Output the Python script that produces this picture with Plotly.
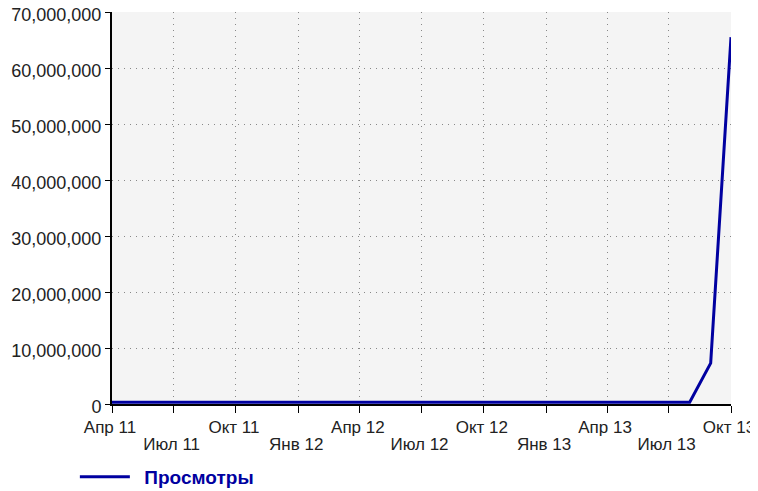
import plotly.graph_objects as go
import pandas as pd

# monthly views, Apr 2011 .. Oct 2013
months = pd.date_range('2011-04-01', '2013-10-01', freq='MS')
views = [300000] * 28 + [300000, 7300000, 65500000]

tick_dates = pd.date_range('2011-04-01', '2013-10-01', freq='3MS')
tick_labels = ['Апр 11', 'Июл 11', 'Окт 11', 'Янв 12', 'Апр 12', 'Июл 12',
               'Окт 12', 'Янв 13', 'Апр 13', 'Июл 13', 'Окт 13']
# labels alternate between two rows
row1 = [t if i % 2 == 0 else '' for i, t in enumerate(tick_labels)]
row2 = [t if i % 2 == 1 else '' for i, t in enumerate(tick_labels)]

fig = go.Figure()
fig.add_trace(go.Scatter(x=months, y=views, mode='lines', name='\u2002<b>Просмотры</b>',
                         line=dict(color='#0000a0', width=3)))
# invisible helper so the second label row axis gets drawn
fig.add_trace(go.Scatter(x=months, y=views, mode='lines', xaxis='x2', showlegend=False,
                         hoverinfo='skip', opacity=0, line=dict(width=0)))

fig.update_layout(
    width=750, height=483,
    margin=dict(l=104, r=27, t=4, b=87, autoexpand=False),
    plot_bgcolor='#f4f4f4', paper_bgcolor='white',
    font=dict(family='Liberation Sans, Arial', size=17, color='#222222'),
    showlegend=True,
    legend=dict(orientation='h', x=-0.06, xanchor='left', y=-0.186, yanchor='middle',
                itemwidth=50, font=dict(size=19, color='#0000a0'), bgcolor='rgba(0,0,0,0)'),
)
grid = dict(showgrid=True, gridcolor='#888888', griddash='1px,5px', gridwidth=1,
            showline=True, linecolor='black', linewidth=2,
            ticks='outside', tickcolor='black', tickwidth=1, zeroline=False,
            ticklabeloverflow='allow')
fig.update_xaxes(range=[months[0], months[-1]], tickvals=tick_dates, ticktext=row1,
                 ticklen=7, ticklabelshift=-2, **grid)
fig.update_layout(xaxis2=dict(range=[months[0], months[-1]], overlaying='x', side='bottom',
                              anchor='y', tickvals=tick_dates, ticktext=row2,
                              showgrid=False, showline=False, zeroline=False,
                              ticks='', ticklabelstandoff=28, ticklabelshift=-2,
                              ticklabeloverflow='allow'))
fig.update_yaxes(range=[0, 70000000], dtick=10000000, tickformat=',d',
                 ticklen=5, ticklabelshift=3, tickfont=dict(size=18), **grid)

fig.write_html("out.html")
